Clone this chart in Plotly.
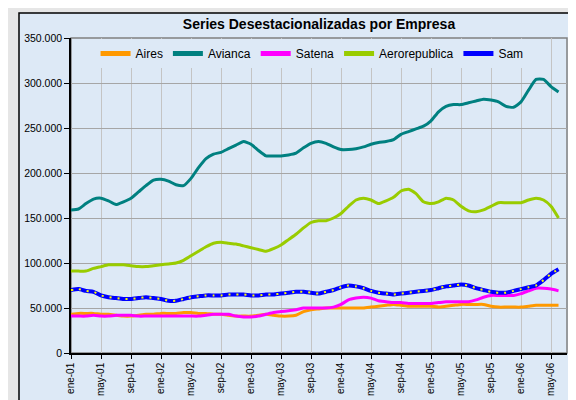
import plotly.graph_objects as go

# Categorías (meses)
meses = ['ene', 'feb', 'mar', 'abr', 'may', 'jun', 'jul', 'ago', 'sep', 'oct', 'nov', 'dic']
anios = ['01', '02', '03', '04', '05', '06']
periodos = [f"{m}-{a}" for a in anios for m in meses][:66]
etiquetas = periodos[::4]

# Valores (miles de pasajeros)
aires = [43, 44, 44, 44, 43, 43, 42, 41, 41, 42, 43, 43, 44, 44, 44, 45, 45, 44, 44, 43,
         43, 42, 41, 41, 41, 42, 43, 42, 41, 41, 42, 46, 48, 49, 50, 50, 50, 50, 50, 50,
         51, 52, 53, 54, 53, 52, 52, 52, 52, 51, 52, 53, 54, 54, 54, 54, 52, 51, 51, 51,
         51, 52, 53, 53, 53, 53]
avianca = [159, 160, 166, 171, 172, 169, 165, 168, 172, 179, 186, 192, 193, 191, 187, 186, 194, 206, 216, 221,
           223, 227, 231, 235, 232, 225, 219, 219, 219, 220, 222, 228, 233, 235, 233, 229, 226, 226, 227, 229,
           232, 234, 235, 237, 243, 246, 249, 252, 258, 268, 274, 276, 276, 278, 280, 282, 281, 279, 274, 273,
           279, 292, 304, 304, 296, 290]
satena = [41, 41, 41, 42, 41, 41, 42, 42, 42, 41, 41, 41, 41, 41, 41, 41, 41, 41, 42, 43,
          43, 43, 41, 40, 40, 41, 43, 45, 46, 47, 48, 50, 50, 50, 50, 51, 54, 59, 61, 62,
          61, 58, 57, 56, 56, 55, 55, 55, 55, 56, 57, 57, 57, 57, 59, 62, 64, 64, 64, 64,
          66, 69, 72, 72, 71, 69]
aerorepublica = [91, 91, 91, 94, 96, 98, 98, 98, 97, 96, 96, 97, 98, 99, 100, 103, 108, 113, 118, 122,
                 123, 122, 121, 119, 117, 115, 113, 116, 120, 126, 132, 139, 145, 147, 147, 150, 155, 163, 170, 172,
                 170, 166, 169, 173, 180, 182, 177, 168, 166, 168, 172, 170, 163, 158, 157, 159, 163, 167, 167, 167,
                 167, 170, 172, 170, 163, 150]
sam = [70, 71, 69, 68, 64, 62, 61, 60, 60, 61, 62, 61, 60, 58, 58, 60, 62, 63, 64, 64,
       64, 65, 65, 65, 64, 64, 65, 65, 66, 67, 68, 68, 67, 66, 68, 70, 73, 75, 74, 72,
       69, 67, 66, 65, 66, 67, 68, 69, 70, 72, 74, 75, 76, 75, 72, 70, 68, 67, 67, 69,
       71, 73, 75, 81, 88, 93]

series = [
    ('Aires', aires, '#FF9900', 3),
    ('Avianca', avianca, '#008080', 3),
    ('Satena', satena, '#FF00FF', 3),
    ('Aerorepublica', aerorepublica, '#99CC00', 3),
    ('Sam', sam, '#0000FF', 4),
]

BG = '#dde9f6'
FONT = 'Liberation Sans, Arial, sans-serif'

fig = go.Figure()
for nombre, vals, color, w in series:
    fig.add_trace(go.Scatter(
        x=periodos, y=[v * 1000 for v in vals], name=nombre, mode='lines',
        line=dict(color=color, width=w, shape='spline', smoothing=0.5),
    ))
# punteado amarillo sobre la serie Sam
fig.add_trace(go.Scatter(
    x=periodos, y=[v * 1000 for v in sam], mode='lines', showlegend=False,
    line=dict(color='#FFFF00', width=2, dash='2px,6px', shape='spline', smoothing=0.5),
    hoverinfo='skip',
))

fig.update_layout(
    width=576, height=400,
    margin=dict(l=63, r=17, t=30, b=43),
    paper_bgcolor='#e6e6e6',
    plot_bgcolor='rgba(0,0,0,0)',
    separators=',.',
    font=dict(family=FONT, color='#000000'),
    title=dict(text='<b>Series Desestacionalizadas por Empresa</b>',
               x=0.5, xref='paper', xanchor='center',
               y=1 - 16 / 400, yref='container', yanchor='middle',
               font=dict(family=FONT, size=14, color='#000000')),
    showlegend=True,
    legend=dict(orientation='h', x=0.486, xanchor='center', y=0.951, yanchor='middle',
                bgcolor=BG, borderwidth=0,
                font=dict(family=FONT, size=12, color='#000000'),
                itemsizing='constant', tracegroupgap=0),
    shapes=[
        dict(type='rect', xref='paper', yref='paper',
             x0=(11 - 63) / 496, x1=(600 - 63) / 496,
             y0=(357 - 420) / 327, y1=(357 - 4) / 327,
             fillcolor=BG, line=dict(color='#000000', width=1.5), layer='below'),
        dict(type='rect', xref='paper', yref='paper', x0=0, x1=1, y0=0, y1=1,
             fillcolor='rgba(0,0,0,0)', line=dict(color='#808080', width=1.5), layer='below'),
    ],
)

fig.update_xaxes(
    type='category', range=[0, 66.13],
    tickmode='array', tickvals=etiquetas, ticktext=etiquetas,
    tickangle=-90, tickfont=dict(family=FONT, size=10, color='#000000'),
    ticks='outside', ticklen=4, tickcolor='#000000',
    showgrid=True, gridcolor='#c4c4c4', gridwidth=1,
    showline=True, linecolor='#000000', linewidth=1.5,
    zeroline=False,
)
fig.update_yaxes(
    range=[0, 350000], tickmode='linear', tick0=0, dtick=50000, tickformat=',d',
    tickfont=dict(family=FONT, size=10.5, color='#000000'),
    ticks='outside', ticklen=5, tickcolor='#000000',
    showgrid=True, gridcolor='#a6a6a6', gridwidth=1,
    showline=True, linecolor='#000000', linewidth=1.5,
    zeroline=False,
)

fig.write_html('out.html')
